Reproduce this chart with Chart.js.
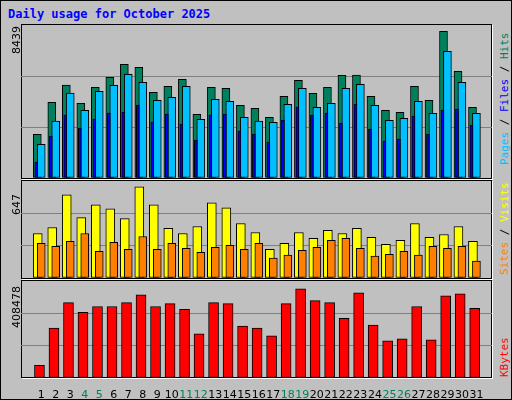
<!DOCTYPE html>
<html>
<head>
<meta charset="utf-8">
<script src="https://cdn.jsdelivr.net/npm/chart.js@4"></script>
<style>
body { margin: 0; }
#frame { position: relative; width: 510px; height: 398px; background: #c0c0c0; border: 1px solid #000; overflow: hidden; }
.box { position: absolute; left: 20px; width: 471px; background: #c0c0c0; border: 1px solid #000; box-shadow: 1px 1px 0 #fff; box-sizing: border-box; }
.cv { position: absolute; left: 20px; width: 471px; }
.title { position: absolute; left: 7px; top: 6px; font: bold 12px "DejaVu Sans Mono", monospace; color: #0000ff; }
.vmax { position: absolute; font: 11px "DejaVu Sans", sans-serif; color: #000; transform-origin: left top; transform: rotate(-90deg); white-space: nowrap; }
.legend { position: absolute; font: 11px "DejaVu Sans Mono", monospace; transform-origin: left top; transform: rotate(-90deg); white-space: nowrap; }
</style>
</head>
<body>
<div id="frame">
    <div class="title">Daily usage for October 2025</div>
    <div class="box" style="top:23px;height:155px"></div>
    <div class="box" style="top:179px;height:99px"></div>
    <div class="box" style="top:279px;height:98px"></div>
    <div class="cv" style="top:24px;height:153px"><canvas id="chartHits"></canvas></div>
    <div class="cv" style="top:180px;height:97px"><canvas id="chartVisits"></canvas></div>
    <div class="cv" style="top:280px;height:118px"><canvas id="chartKbytes"></canvas></div>
    <div class="vmax" style="left:9px;top:53px">8439</div>
    <div class="vmax" style="left:9px;top:214px">647</div>
    <div class="vmax" style="left:9px;top:327px">408478</div>
    <div class="legend" style="left:497px;top:164px"><span style="color:#00c0ff">Pages</span> / <span style="color:#0000ff">Files</span> / <span style="color:#00805c">Hits</span></div>
    <div class="legend" style="left:497px;top:274px"><span style="color:#ff8000">Sites</span> / <span style="color:#ffff00">Visits</span></div>
    <div class="legend" style="left:497px;top:376px"><span style="color:#ff0000">KBytes</span></div>
</div>
<script>
const DAYS = Array.from({length: 31}, (_, i) => i + 1);
const WEEKEND_DAYS = [4, 5, 11, 12, 18, 19, 25, 26];

const HITS = [2512, 4354, 5351, 4296, 5217, 5792, 6540, 6368, 4929, 5274, 5677, 3663, 5217, 5159, 4181, 4008,
    3491, 4699, 5620, 4872, 5217, 5907, 5927, 4699, 3893, 3778, 5274, 4469, 8439, 6137, 4066];
const PAGES = [1937, 3280, 4891, 3894, 4987, 5332, 5965, 5505, 4469, 4642, 5275, 3376, 4527, 4411, 3491, 3280,
    3203, 4239, 5159, 4066, 4296, 5159, 5390, 4181, 3318, 3433, 4411, 3721, 7288, 5505, 3721];
const FILES = [921, 2417, 3625, 2877, 3395, 3740, 3798, 4200, 3222, 3683, 3107, 2187, 3625, 3683, 2704, 2532,
    2071, 3337, 4085, 3625, 3740, 3165, 4258, 2819, 2129, 2244, 3567, 2532, 3913, 3970, 3050];
const VISITS = [316, 359, 591, 429, 520, 492, 422, 647, 520, 352, 316, 366, 534, 499, 387, 323,
    204, 246, 323, 281, 338, 316, 352, 288, 239, 267, 387, 288, 309, 366, 260];
const SITES = [246, 225, 260, 316, 190, 253, 204, 295, 204, 246, 211, 183, 218, 232, 204, 246,
    141, 162, 197, 218, 267, 281, 211, 155, 169, 190, 162, 225, 211, 225, 120];
const KBYTES = [58344, 228888, 345576, 300696, 327624, 327624, 345576, 381480, 327624, 341088, 314160, 201960,
    345576, 341088, 237864, 228888, 192984, 341088, 408478, 354552, 345576, 273768, 390456, 242352,
    170544, 179520, 327624, 175032, 376992, 385968, 318648];

// отступ внутри дня, в долях дня
function points(values, shift) {
    return values.map((v, i) => ({x: DAYS[i] + shift, y: v}));
}

function yScale(max) {
    return {
        min: 0,
        max: max,
        ticks: {display: false, stepSize: max / 3},
        grid: {
            drawTicks: false,
            color: (ctx) => (ctx.tick.value > 0 && ctx.tick.value < max - 1 ? '#808080' : 'transparent'),
            lineWidth: 1,
        },
        border: {display: false},
        afterFit: (scale) => { scale.width = 0; },
    };
}

function xScale(withLabels) {
    const scale = {
        type: 'linear',
        min: 0.4,
        max: 31.82,
        display: withLabels,
        grid: {display: false},
        border: {display: false},
        afterBuildTicks: (s) => { s.ticks = DAYS.map((d) => ({value: d + 0.27})); },
        ticks: {
            autoSkip: false,
            maxRotation: 0,
            padding: 3,
            font: {family: 'DejaVu Sans', size: 11},
            color: (ctx) => (WEEKEND_DAYS.includes(DAYS[ctx.index]) ? '#00805c' : '#000'),
            callback: (value, index) => String(DAYS[index]),
        },
    };
    if (withLabels) {
        scale.afterFit = (s) => { s.height = 21; };
    }
    return scale;
}

function bar(data, color, width, order) {
    return {
        data: data,
        backgroundColor: color,
        borderColor: '#000',
        borderWidth: 1,
        borderSkipped: false,
        barThickness: width,
        grouped: false,
        order: order,
    };
}

function makeChart(canvasId, datasets, max, withLabels) {
    new Chart(document.getElementById(canvasId), {
        type: 'bar',
        data: {datasets: datasets},
        options: {
            responsive: true,
            maintainAspectRatio: false,
            animation: false,
            layout: {padding: 0},
            plugins: {legend: {display: false}, tooltip: {enabled: false}},
            scales: {x: xScale(withLabels), y: yScale(max)},
        },
    });
}

makeChart('chartHits', [
    bar(points(HITS, 0), '#00805c', 8, 3),
    bar(points(PAGES, 0.27), '#00c0ff', 8, 2),
    bar(points(FILES, -0.07), '#0000ff', 3, 1),
], 8801, false);

makeChart('chartVisits', [
    bar(points(VISITS, 0.03), '#ffff00', 9, 2),
    bar(points(SITES, 0.27), '#ff8000', 8, 1),
], 689, false);

makeChart('chartKbytes', [
    bar(points(KBYTES, 0.15), '#ff0000', 10, 1),
], 444380, true);
</script>
</body>
</html>
